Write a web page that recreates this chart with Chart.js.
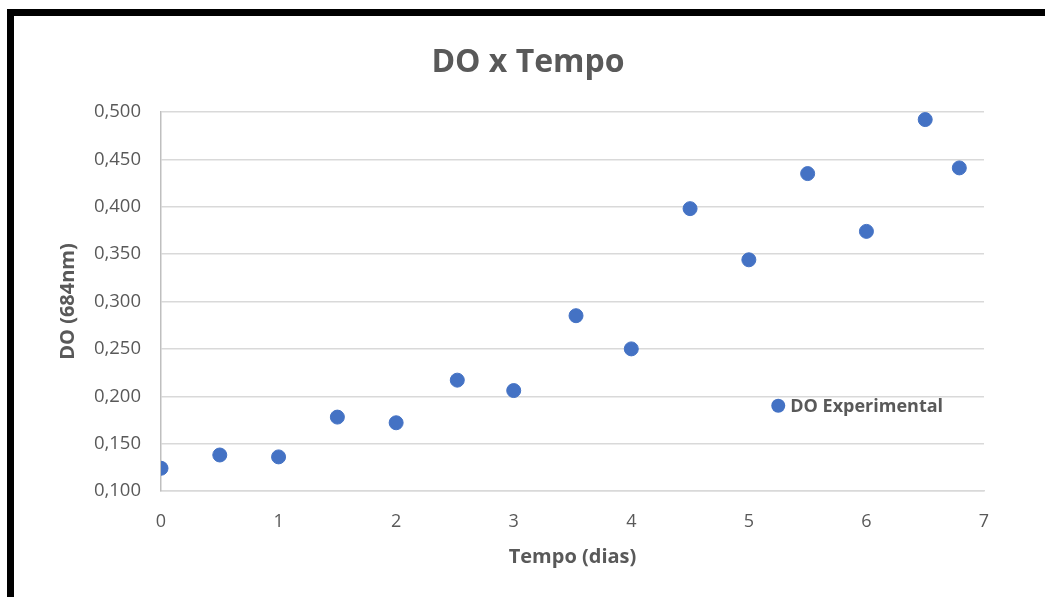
<!DOCTYPE html>
<html lang="pt">
<head>
    <meta charset="UTF-8">
    <title>DO x Tempo</title>
    <style>
        body {
            margin: 0;
            background: #fff;
        }

        #wrap {
            position: relative;
            width: 1045px;
            height: 597px;
            overflow: hidden;
        }

        #frame {
            position: absolute;
            left: 7px;
            top: 9px;
            width: 1100px;
            height: 700px;
            border-top: 7px solid #000;
            border-left: 7px solid #000;
            pointer-events: none;
        }

        canvas {
            position: absolute;
            left: 0;
            top: 0;
        }
    </style>
</head>
<body>
    <div id="wrap">
        <canvas id="chart" width="1045" height="597"></canvas>
        <div id="frame"></div>
    </div>
    <script src="https://cdn.jsdelivr.net/npm/chart.js"></script>
    <script>
        // dados
        const tempoDias = [0, 0.5, 1, 1.5, 2, 2.52, 3, 3.53, 4, 4.5, 5, 5.5, 6, 6.5, 6.79];
        const doValores = [0.124, 0.138, 0.136, 0.178, 0.172, 0.217, 0.206, 0.285, 0.250, 0.398, 0.344, 0.435, 0.374, 0.492, 0.441];
        const serieNome = 'DO Experimental';
        const titulo = 'DO x Tempo';

        const grey = '#595959';
        const blue = '#4472C4';
        const fontFamily = '"Open Sans", sans-serif';

        // título e legenda desenhados à mão, como no Excel
        const excelBits = {
            id: 'excelBits',
            afterDraw(chart) {
                const ctx = chart.ctx;
                ctx.save();
                ctx.fillStyle = grey;
                ctx.font = 'bold 32px ' + fontFamily;
                ctx.textAlign = 'center';
                ctx.textBaseline = 'middle';
                ctx.fillText(titulo, 528, 63);

                const x = chart.scales.x.getPixelForValue(5.25);
                const y = chart.scales.y.getPixelForValue(0.19);
                ctx.fillStyle = blue;
                ctx.beginPath();
                ctx.arc(x, y, 7, 0, Math.PI * 2);
                ctx.fill();
                ctx.fillStyle = grey;
                ctx.font = 'bold 18px ' + fontFamily;
                ctx.textAlign = 'left';
                ctx.fillText(chart.data.datasets[0].label, x + 12, y + 1);
                ctx.restore();
            }
        };

        new Chart(document.getElementById('chart'), {
            type: 'scatter',
            data: {
                datasets: [{
                    label: serieNome,
                    data: tempoDias.map((t, i) => ({ x: t, y: doValores[i] })),
                    backgroundColor: blue,
                    borderColor: blue,
                    pointRadius: 7,
                    pointHoverRadius: 7
                }]
            },
            options: {
                responsive: false,
                animation: false,
                layout: { padding: { top: 112, left: 0, right: 61, bottom: 0 } },
                plugins: {
                    legend: { display: false },
                    tooltip: { enabled: false },
                    title: { display: false }
                },
                scales: {
                    x: {
                        type: 'linear',
                        min: 0,
                        max: 7,
                        ticks: {
                            stepSize: 1,
                            color: grey,
                            padding: 20,
                            font: { family: fontFamily, size: 18 }
                        },
                        grid: { display: false, drawTicks: false },
                        border: { display: true, color: '#d9d9d9', width: 1.5 },
                        title: {
                            display: true,
                            text: 'Tempo (dias)',
                            color: grey,
                            font: { family: fontFamily, size: 20, weight: 'bold', lineHeight: 1.2 },
                            padding: { top: 0, bottom: 28 }
                        },
                        afterFit(scale) { scale.height = 106; }
                    },
                    y: {
                        min: 0.1,
                        max: 0.5,
                        ticks: {
                            stepSize: 0.05,
                            color: grey,
                            padding: 20,
                            font: { family: fontFamily, size: 18.5 },
                            callback: v => v.toFixed(3).replace('.', ',')
                        },
                        grid: { color: '#d9d9d9', lineWidth: 1.5, drawTicks: false },
                        border: { display: true, color: '#bfbfbf', width: 1.5 },
                        title: {
                            display: true,
                            text: 'DO (684nm)',
                            color: grey,
                            font: { family: fontFamily, size: 20, weight: 'bold', lineHeight: 1.2 },
                            padding: { top: 56, bottom: 0 }
                        },
                        afterFit(scale) { scale.width = 161; }
                    }
                }
            },
            plugins: [excelBits]
        });
    </script>
</body>
</html>
